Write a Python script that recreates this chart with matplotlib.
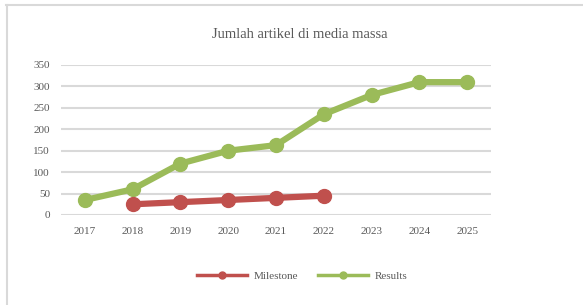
import matplotlib.pyplot as plt
from matplotlib.lines import Line2D

years = ['2017', '2018', '2019', '2020', '2021', '2022', '2023', '2024', '2025']
milestone_years = ['2018', '2019', '2020', '2021', '2022']
milestone = [25, 30, 35, 40, 45]
results = [35, 60, 120, 150, 163, 235, 280, 310, 310]
yticks = [0, 50, 100, 150, 200, 250, 300, 350]

red = '#c0504d'
green = '#9bbb59'
grey_text = '#595959'
grid_col = '#d9d9d9'

plt.rcParams['font.family'] = ['Liberation Serif', 'DejaVu Serif']

W, H = 583, 305
fig = plt.figure(figsize=(W / 100, H / 100), dpi=100)

# plot area in pixels: left 61, right 491, top 65 (350), bottom 215 (0)
ax = fig.add_axes([61 / W, 1 - 215 / H, (491 - 61) / W, (215 - 65) / H])
ax.set_xlim(-0.5, len(years) - 0.5)
ax.set_ylim(0, 350)

x_all = list(range(len(years)))
x_ms = [years.index(y) for y in milestone_years]

ax.plot(x_all, results, color=green, lw=4.5, marker='o', ms=10,
        solid_capstyle='round', clip_on=False, zorder=3)
ax.plot(x_ms, milestone, color=red, lw=4.5, marker='o', ms=10,
        solid_capstyle='round', clip_on=False, zorder=4)

ax.set_yticks(yticks)
ax.set_xticks(x_all)
ax.set_xticklabels(years)
ax.grid(axis='y', color=grid_col, lw=1.5)
ax.set_axisbelow(True)
for s in ax.spines.values():
    s.set_visible(False)
ax.tick_params(length=0, labelsize=8, colors=grey_text, pad=8)
ax.tick_params(axis='x', pad=9)

fig.text(300 / W, 1 - 35 / H, 'Jumlah artikel di media massa', ha='center',
         va='center', fontsize=10.5, color=grey_text)

# chart frame (top and left edges only visible)
fig.add_artist(Line2D([6 / W, 1], [1 - 5 / H, 1 - 5 / H], color=grid_col, lw=1.5,
                      transform=fig.transFigure))
fig.add_artist(Line2D([6.5 / W, 6.5 / W], [0, 1 - 5 / H], color=grid_col, lw=1.5,
                      transform=fig.transFigure))

handles = [Line2D([], [], color=red, lw=2.5, marker='o', ms=5),
           Line2D([], [], color=green, lw=2.5, marker='o', ms=5)]
fig.legend(handles, ['Milestone', 'Results'], loc='center',
           bbox_to_anchor=(302 / W, 1 - 276 / H), ncol=2, frameon=False,
           fontsize=8, labelcolor=grey_text, handlelength=4.5, columnspacing=1.8,
           handletextpad=0.6)

fig.savefig('out.png', dpi=100, facecolor='white')
